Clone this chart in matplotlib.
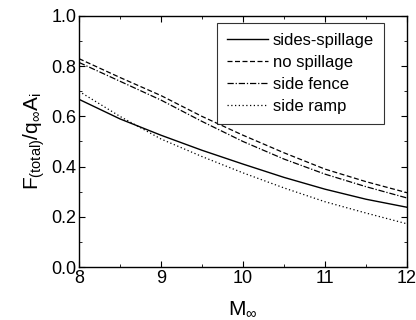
import numpy as np
import matplotlib
matplotlib.use("Agg")
import matplotlib.pyplot as plt
from matplotlib.ticker import MultipleLocator

plt.rcParams['font.family'] = ['Liberation Sans', 'DejaVu Sans']
plt.rcParams['mathtext.fontset'] = 'custom'
plt.rcParams['mathtext.rm'] = 'Liberation Sans'
plt.rcParams['mathtext.it'] = 'Liberation Sans'

# Mach number
mach = [8.0, 8.5, 9.0, 9.5, 10.0, 10.5, 11.0, 11.5, 12.0]

# normalised total force for each configuration
sides_spillage = [0.668, 0.590, 0.525, 0.465, 0.410, 0.357, 0.310, 0.270, 0.238]
no_spillage = [0.830, 0.755, 0.683, 0.600, 0.525, 0.455, 0.390, 0.340, 0.296]
side_fence = [0.815, 0.740, 0.665, 0.580, 0.500, 0.430, 0.370, 0.320, 0.275]
side_ramp = [0.700, 0.600, 0.510, 0.440, 0.375, 0.315, 0.260, 0.215, 0.172]

fig = plt.figure(figsize=(4.16, 3.2), dpi=100)
ax = fig.add_axes([79/416, 1 - 267/320, 328/416, 251/320])

ax.plot(mach, sides_spillage, color='black', lw=1.0, ls='-', label='sides-spillage')
ax.plot(mach, no_spillage, color='black', lw=0.9, ls=(0, (4, 2)), label='no spillage')
ax.plot(mach, side_fence, color='black', lw=0.9, ls=(0, (5, 1.5, 1, 1.5)), label='side fence')
ax.plot(mach, side_ramp, color='black', lw=0.9, ls=(0, (1, 2)), label='side ramp')

ax.set_xlim(8, 12)
ax.set_ylim(0, 1.0)
ax.xaxis.set_major_locator(MultipleLocator(1))
ax.xaxis.set_minor_locator(MultipleLocator(0.5))
ax.yaxis.set_major_locator(MultipleLocator(0.2))
ax.yaxis.set_minor_locator(MultipleLocator(0.1))
ax.yaxis.set_major_formatter(matplotlib.ticker.FormatStrFormatter('%.1f'))
ax.tick_params(which='both', direction='in', top=True, right=True, labelsize=13, pad=2)
ax.tick_params(which='major', length=4)
ax.tick_params(which='minor', length=2.5)
for s in ax.spines.values():
    s.set_linewidth(1.0)

ax.set_xlabel(r'$\mathrm{M_{\infty}}$', fontsize=15, labelpad=9)
ax.set_ylabel(r'$\mathrm{F_{(total)}/q_{\infty}A_{i}}$', fontsize=15, labelpad=3)

leg = ax.legend(loc='upper right', bbox_to_anchor=(0.93, 0.972), fontsize=12,
                frameon=True, fancybox=False, edgecolor='black', handlelength=2.45,
                handletextpad=0.3, borderpad=0.6, labelspacing=0.42,
                borderaxespad=0)
leg.get_frame().set_linewidth(0.8)

fig.savefig('out.png', dpi=100)
